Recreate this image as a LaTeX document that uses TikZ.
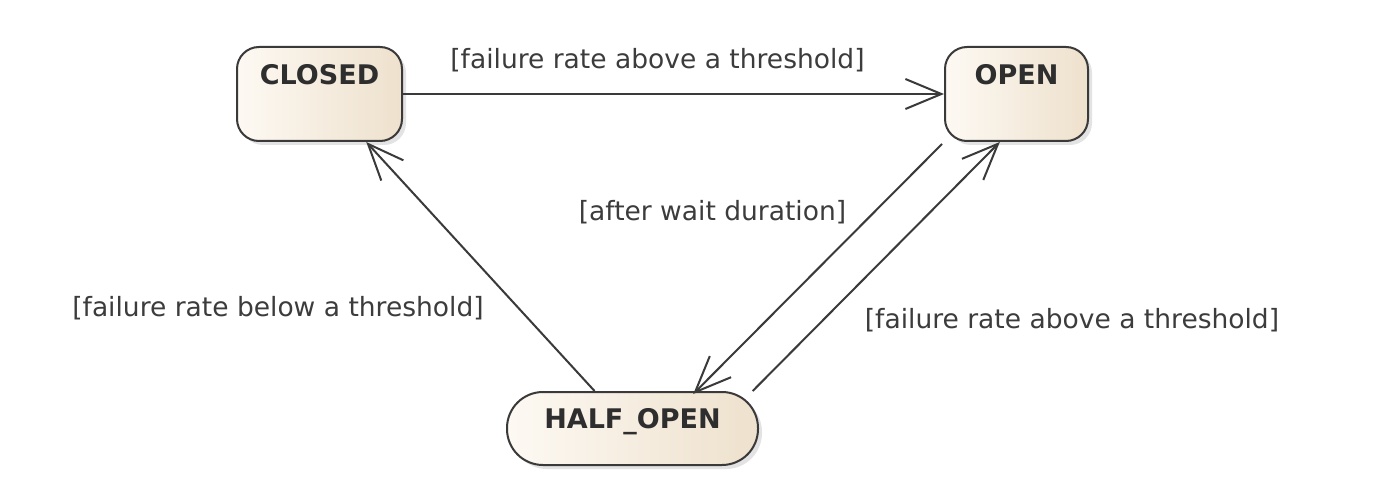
\documentclass[tikz,border=0pt]{standalone}
\usepackage{fontspec}
\setmainfont{DejaVu Sans}
\usetikzlibrary{arrows.meta,shadows,calc}
\definecolor{boxlight}{HTML}{FDF9F3}
\definecolor{boxdark}{HTML}{EEE1CD}
\definecolor{edgegray}{HTML}{3A3A3A}
\definecolor{txtgray}{HTML}{3C3C3C}
\definecolor{boldgray}{HTML}{2E2E2E}
\tikzset{
  statebox/.style={draw=edgegray, line width=2pt, left color=boxlight, right color=boxdark,
    drop shadow={shadow xshift=4pt, shadow yshift=-4pt, opacity=0.22, fill=gray},
    inner sep=0pt, text=boldgray, font=\fontsize{27}{32}\selectfont\bfseries},
  trans/.style={draw=edgegray, line width=2pt, -{Straight Barb[length=36pt,width=30pt,line width=2pt]}},
  guard/.style={text=txtgray, font=\fontsize{26.5}{31}\selectfont, inner sep=0pt}
}
\begin{document}
\begin{tikzpicture}[x=1pt,y=-1pt]
\useasboundingbox (0,0) rectangle (1387,484);
\fill[white] (0,0) rectangle (1387,484);
% states
\node[statebox, rounded corners=22pt, minimum width=165pt, text height=38pt, text depth=56pt] (closed) at (319.5,94) {CLOSED};
\node[statebox, rounded corners=22pt, minimum width=143pt, text height=38pt, text depth=56pt] (open) at (1016.5,94) {OPEN};
\node[statebox, rounded corners=36pt, minimum width=251pt, text height=36pt, text depth=37pt] (half) at (632.5,428.5) {HALF\_OPEN};
% transitions
\draw[trans] (closed.east) -- (open.west);
\draw[trans] ($(half.north west)!0.35!(half.north east)$) -- ($(closed.south west)!0.78!(closed.south east)$);
\draw[trans] ($(open.south west)!0.0!(open.south east)+(-2pt,-2pt)$) -- ($(half.north west)!0.74!(half.north east)+(0,-3pt)$);
\draw[trans] ($(half.north west)!0.975!(half.north east)$) -- ($(open.south west)!0.385!(open.south east)$);
% guards
\node[guard] (g1) at (657.5,60) {[failure rate above a threshold]};
\node[guard] (g2) at (712.5,212) {[after wait duration]};
\node[guard] (g3) at (278,308) {[failure rate below a threshold]};
\node[guard] (g4) at (1072,320) {[failure rate above a threshold]};
\end{tikzpicture}
\end{document}
